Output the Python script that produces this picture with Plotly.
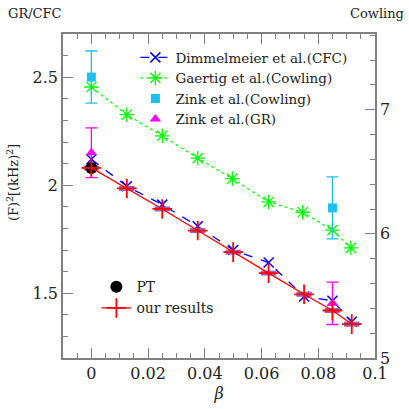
import plotly.graph_objects as go

# ---- data ----
beta_dim = [0.0, 0.0125, 0.025, 0.0375, 0.05, 0.0625, 0.075, 0.085, 0.0918]
f2_dim = [2.12, 1.995, 1.91, 1.81, 1.70, 1.642, 1.485, 1.465, 1.368]

beta_gae = [0.0, 0.0125, 0.025, 0.0375, 0.0497, 0.0625, 0.0745, 0.085, 0.0915]
f2_gae = [7.183, 6.96, 6.79, 6.61, 6.445, 6.257, 6.174, 6.03, 5.887]

beta_zc = [0.0, 0.085]
f2_zc = [7.263, 6.209]
err_zc = [0.21, 0.25]

beta_zg = [0.0, 0.085]
f2_zg = [2.15, 1.453]
err_zg = [0.115, 0.098]

beta_pt = [0.0]
f2_pt = [2.08]

beta_our = [0.0, 0.0125, 0.025, 0.0375, 0.05, 0.0625, 0.075, 0.085, 0.0918]
f2_our = [2.08, 1.985, 1.89, 1.79, 1.69, 1.593, 1.495, 1.42, 1.357]

FONT = "DejaVu Serif"
AX = "#808080"
TXT = "#222222"

fig = go.Figure()

fig.add_trace(go.Scatter(x=beta_dim, y=f2_dim, name="Dimmelmeier et al.(CFC)", mode="lines+markers",
                         line=dict(color="#0000ff", dash="dash", width=1.3),
                         marker=dict(symbol="x-thin-open", size=10, line=dict(color="#0000ff", width=1.5)),
                         legend="legend"))
fig.add_trace(go.Scatter(x=beta_gae, y=f2_gae, name="Gaertig et al.(Cowling)", mode="lines+markers", yaxis="y2",
                         line=dict(color="#00ff00", dash="dot", width=1.2),
                         marker=dict(symbol="asterisk-open", size=12, line=dict(color="#00ff00", width=1.3)),
                         legend="legend"))
fig.add_trace(go.Scatter(x=beta_zc, y=f2_zc, name="Zink et al.(Cowling)", mode="markers", yaxis="y2",
                         marker=dict(symbol="square", size=9, color="#1ec0f0"),
                         error_y=dict(type="data", array=err_zc, color="#1ec0f0", thickness=1.3, width=6),
                         legend="legend"))
fig.add_trace(go.Scatter(x=beta_zg, y=f2_zg, name="Zink et al.(GR)", mode="markers",
                         marker=dict(symbol="triangle-up", size=10, color="#ff00ff"),
                         error_y=dict(type="data", array=err_zg, color="#ff00ff", thickness=1.3, width=6),
                         legend="legend"))

fig.add_trace(go.Scatter(x=beta_our, y=f2_our, name="our results_bar", mode="markers", showlegend=False,
                         marker=dict(symbol="line-ew-open", size=11, line=dict(color="#ff0000", width=5))))
fig.add_trace(go.Scatter(x=beta_pt, y=f2_pt, name="PT", mode="markers",
                         marker=dict(symbol="circle", size=12, color="#000000"),
                         legend="legend2"))
fig.add_trace(go.Scatter(x=beta_our, y=f2_our, name="our results", mode="lines+markers",
                         line=dict(color="#ff0000", width=1.3),
                         marker=dict(symbol="cross-thin-open", size=14, line=dict(color="#ff0000", width=1.8)),
                         legend="legend2"))

axis_common = dict(showline=True, linecolor=AX, linewidth=1.5, ticks="inside", tickcolor=AX,
                   tickwidth=1.2, ticklen=10, showgrid=False, zeroline=False, automargin=False,
                   tickfont=dict(family=FONT, size=16, color=TXT))

fig.update_layout(
    template="none",
    width=409, height=409,
    margin=dict(l=63, r=34, t=34, b=51, autoexpand=False),
    paper_bgcolor="white", plot_bgcolor="white",
    font=dict(family=FONT, color=TXT),
    xaxis=dict(range=[-0.01, 0.1], tickvals=[0, 0.02, 0.04, 0.06, 0.08, 0.1],
               ticktext=["0", "0.02", "0.04", "0.06", "0.08", "0.1"], mirror="ticks",
               minor=dict(dtick=0.005, tick0=0, ticks="inside", ticklen=5, tickcolor=AX, tickwidth=1.2),
               title=dict(text="<i>β</i>", font=dict(family=FONT, size=16, color=TXT), standoff=6),
               **axis_common),
    yaxis=dict(range=[1.2, 2.7], tickvals=[1.5, 2, 2.5], ticktext=["1.5", "2", "2.5"],
               minor=dict(dtick=0.1, tick0=0, ticks="inside", ticklen=5, tickcolor=AX, tickwidth=1.2),
               **axis_common),
    yaxis2=dict(range=[5, 7.61], overlaying="y", side="right", tickvals=[5, 6, 7],
                minor=dict(dtick=0.2, tick0=0, ticks="inside", ticklen=5, tickcolor=AX, tickwidth=1.2),
                **axis_common),
    legend=dict(x=0.232, y=0.975, xanchor="left", yanchor="top", bgcolor="rgba(0,0,0,0)",
                font=dict(family=FONT, size=13.5, color=TXT), itemwidth=30, tracegroupgap=0),
    legend2=dict(x=0.107, y=0.268, xanchor="left", yanchor="top", bgcolor="rgba(0,0,0,0)",
                 font=dict(family=FONT, size=14, color=TXT), itemwidth=30, tracegroupgap=0),
    annotations=[
        dict(text="GR/CFC", x=0.0, y=1.0, xref="paper", yref="paper", xanchor="left", yanchor="top",
             xshift=-57, yshift=30, showarrow=False, font=dict(family=FONT, size=13, color=TXT)),
        dict(text="Cowling", x=1.0, y=1.0, xref="paper", yref="paper", xanchor="right", yanchor="top",
             xshift=31, yshift=30, showarrow=False, font=dict(family=FONT, size=13, color=TXT)),
        dict(text="(F)<sup>2</sup>[(kHz)<sup>2</sup>]", x=0.0, y=0.54, xref="paper", yref="paper",
             xanchor="center", yanchor="middle", xshift=-50, textangle=-90, showarrow=False,
             font=dict(family=FONT, size=13, color=TXT)),
    ],
)

fig.write_html("out.html", config={"displayModeBar": False},
               post_script="document.body.style.margin='0px';")
